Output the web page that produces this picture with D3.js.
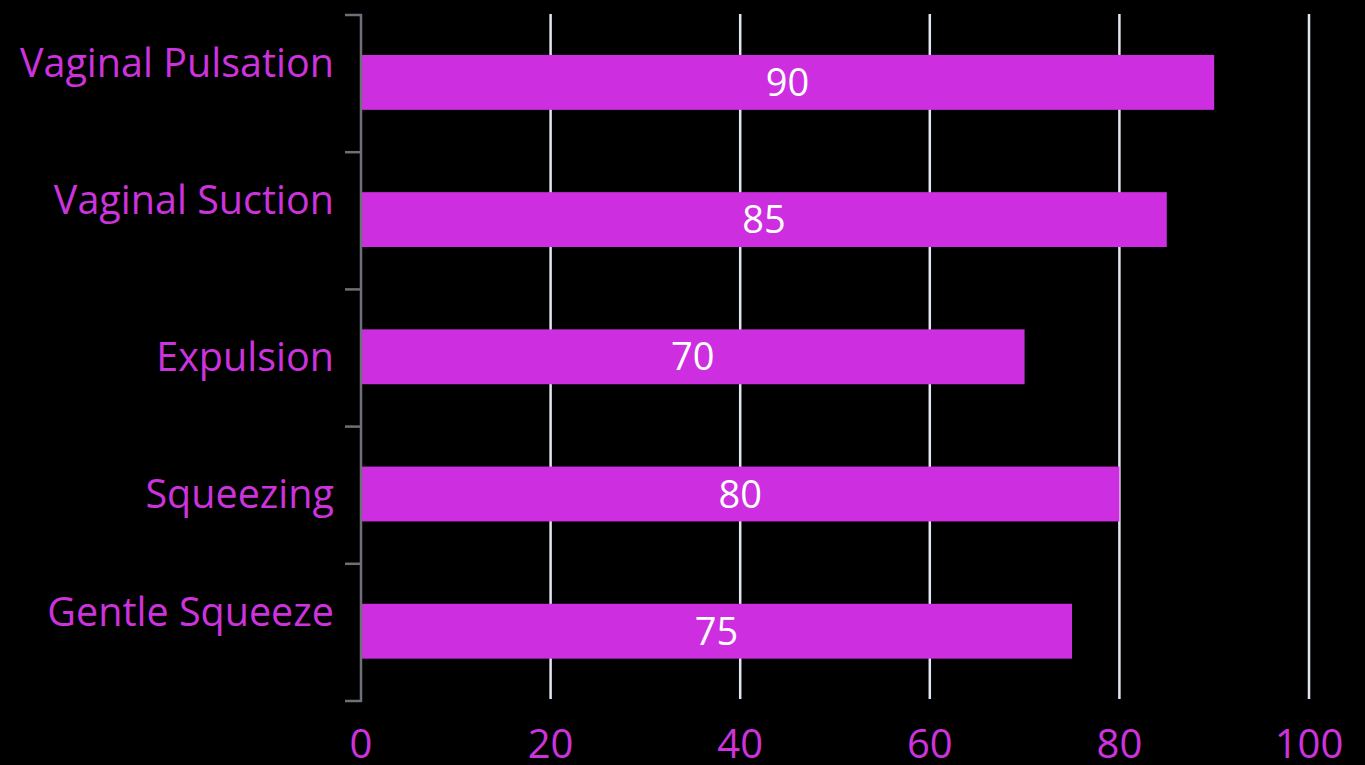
<!DOCTYPE html>
<html>
<head>
<meta charset="utf-8">
<script src="https://cdn.jsdelivr.net/npm/d3@7/dist/d3.min.js"></script>
<style>
html,body{margin:0;padding:0;background:#000;}
svg{display:block;}
</style>
</head>
<body>
<svg id="chart" width="1365" height="765"></svg>
<script>
const categories = ["Vaginal Pulsation", "Vaginal Suction", "Expulsion", "Squeezing", "Gentle Squeeze"];
const values = [90, 85, 70, 80, 75];
const xTicks = [0, 20, 40, 60, 80, 100];

const W = 1365, H = 765;
const margin = {left: 361, right: 56, top: 15, bottom: 64};
const barColor = "#cc2ee0";
const textColor = "#cc33dd";
const axisColor = "#6e7079";
const gridColor = "#e0e6f1";
const font = "'Segoe UI', 'Open Sans', 'Noto Sans', sans-serif";

const svg = d3.select("#chart");
svg.append("rect").attr("width", W).attr("height", H).attr("fill", "#000");

const x = d3.scaleLinear().domain([0, 100]).range([margin.left, W - margin.right]);
const y = d3.scaleBand().domain(categories).range([margin.top, H - margin.bottom])
  .paddingInner(0.6).paddingOuter(0.3);
const yStart = margin.top, yEnd = H - margin.bottom;

// grid lines
svg.append("g").selectAll("line").data(xTicks.filter(d => d > 0)).join("line")
  .attr("x1", d => x(d)).attr("x2", d => x(d))
  .attr("y1", yStart - 1).attr("y2", yEnd - 2)
  .attr("stroke", gridColor).attr("stroke-width", 2.5);

// bars
svg.append("g").selectAll("rect").data(categories).join("rect")
  .attr("x", x(0))
  .attr("y", d => y(d) - 1.2)
  .attr("width", (d, i) => x(values[i]) - x(0))
  .attr("height", y.bandwidth())
  .attr("fill", barColor);

// y axis line + boundary ticks
const ya = svg.append("g");
ya.append("path")
  .attr("d", `M${x(0) - 16},${yStart}H${x(0)}V${yEnd}H${x(0) - 16}`)
  .attr("fill", "none").attr("stroke", axisColor).attr("stroke-width", 2.5);
const boundaries = d3.range(1, categories.length).map(i => yStart + i * (yEnd - yStart) / categories.length);
ya.selectAll("line").data(boundaries).join("line")
  .attr("x1", x(0) - 16).attr("x2", x(0))
  .attr("y1", d => d).attr("y2", d => d)
  .attr("stroke", axisColor).attr("stroke-width", 2.5);

// category labels
svg.append("g").selectAll("text").data(categories).join("text")
  .attr("x", x(0) - 27)
  .attr("y", d => y(d) + y.bandwidth() / 2 - 1.2 - (d.includes(" ") ? 19.5 : 0))
  .attr("dy", "0.36em")
  .attr("text-anchor", "end")
  .attr("fill", textColor)
  .style("font-family", font)
  .style("font-size", "39.5px")
  .text(d => d);

// value labels
svg.append("g").selectAll("text").data(categories).join("text")
  .attr("x", (d, i) => (x(0) + x(values[i])) / 2)
  .attr("y", d => y(d) + y.bandwidth() / 2 - 1.2)
  .attr("dy", "0.36em")
  .attr("text-anchor", "middle")
  .attr("fill", "#ffffff")
  .style("font-family", font)
  .style("font-size", "38px")
  .text((d, i) => values[i]);

// x tick labels
svg.append("g").selectAll("text").data(xTicks).join("text")
  .attr("x", d => x(d))
  .attr("y", 758)
  .attr("text-anchor", "middle")
  .attr("fill", textColor)
  .style("font-family", font)
  .style("font-size", "40px")
  .text(d => d);
</script>
</body>
</html>
